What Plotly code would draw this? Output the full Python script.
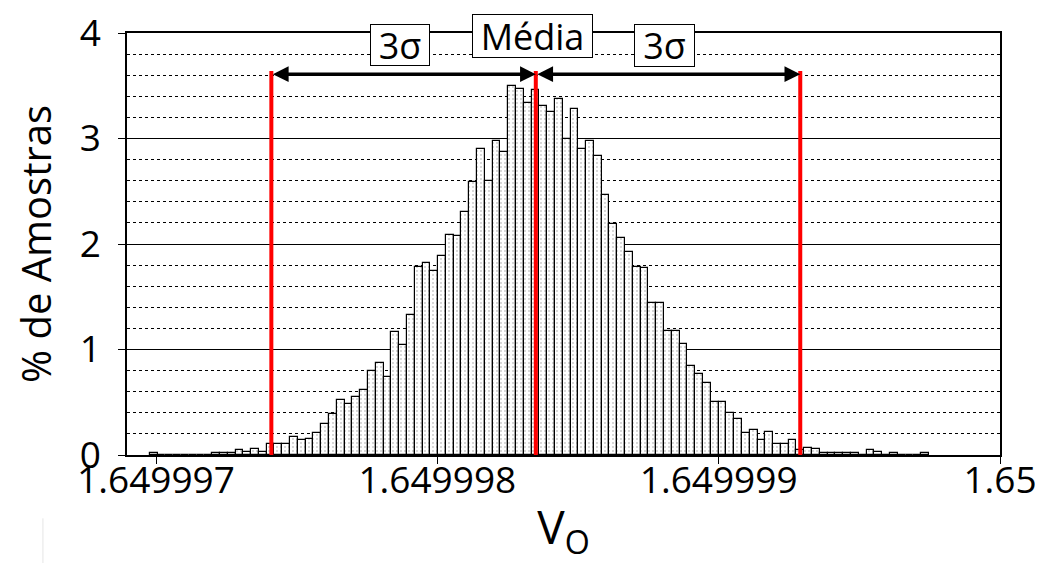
import numpy as np
import plotly.graph_objects as go

# ---------------- data ----------------
bin_start = 1.6499969780      # left edge of first histogram bin (V)
bin_width = 0.027693e-6       # histogram bin width (V)
pct_samples = [
    0.02, 0, 0, 0, 0, 0, 0, 0, 0.02, 0.02,
    0.02, 0.05, 0.03, 0.06, 0.03, 0.10, 0.10, 0.10, 0.17, 0.14,
    0.155, 0.21, 0.29, 0.39, 0.52, 0.48, 0.55, 0.62, 0.80, 0.875,
    0.74, 1.165, 1.04, 1.33, 1.78, 1.82, 1.74, 1.89, 2.09, 2.08,
    2.30, 2.585, 2.90, 2.60, 2.98, 2.87, 3.50, 3.47, 3.34, 3.46,
    3.31, 3.25, 3.37, 3.00, 3.28, 2.90, 2.98, 2.83, 2.46, 2.19,
    2.06, 1.92, 1.78, 1.77, 1.44, 1.44, 1.18, 1.175, 1.05, 0.84,
    0.77, 0.685, 0.50, 0.505, 0.40, 0.345, 0.21, 0.235, 0.14, 0.22,
    0.10, 0.10, 0.14, 0.05, 0.07, 0.057, 0.02, 0.02, 0.02, 0.02,
    0.02, 0, 0.047, 0.028, 0, 0.02, 0, 0, 0, 0.02,
]
sigma_lines = [1.64999741, 1.64999835, 1.64999929]   # -3σ, média, +3σ
sigma_line_top = 3.64
arrow_level = 3.61
box_labels = ["3σ", "Média", "3σ"]
box_x = [1.649997867, 1.649998337, 1.649998809]
box_y = [3.886, 3.97, 3.877]
box_w = [60, 121, 61]
box_h = [42, 44, 43]
x_tickvals = [1.649997, 1.649998, 1.649999, 1.65]
x_ticktext = ["1.649997", "1.649998", "1.649999", "1.65"]
y_tickvals = [0, 1, 2, 3, 4]

FONT = "Open Sans"

x_centers = bin_start + bin_width * (np.arange(len(pct_samples)) + 0.5)

fig = go.Figure()
fig.add_trace(go.Bar(
    x=x_centers, y=pct_samples, width=bin_width,
    marker=dict(color="white", line=dict(color="black", width=1.2),
                pattern=dict(shape=".", fgcolor="#333", bgcolor="white",
                             size=4, solidity=0.1)),
    showlegend=False, hoverinfo="x+y",
))

shapes = []
for xv in sigma_lines:
    shapes.append(dict(type="line", xref="x", yref="y", x0=xv, x1=xv,
                       y0=0, y1=sigma_line_top,
                       line=dict(color="#FF0000", width=4)))
# faint artefact line at bottom-left
shapes.append(dict(type="line", xref="paper", yref="paper",
                   x0=-0.0963, x1=-0.0963, y0=-0.15, y1=-0.256,
                   line=dict(color="#e6e6e6", width=1)))

annotations = []
for a, b in [(sigma_lines[0], sigma_lines[1]), (sigma_lines[1], sigma_lines[2])]:
    annotations.append(dict(x=b, y=arrow_level, ax=a, ay=arrow_level,
                            xref="x", yref="y", axref="x", ayref="y",
                            text="", showarrow=True, arrowside="end+start",
                            arrowhead=2, startarrowhead=2, arrowsize=0.9,
                            startarrowsize=0.9, arrowwidth=3.5,
                            arrowcolor="black", standoff=0, startstandoff=0))
for t, xv, yv, w, h in zip(box_labels, box_x, box_y, box_w, box_h):
    annotations.append(dict(x=xv, y=yv, xref="x", yref="y", text=t,
                            showarrow=False, bgcolor="white",
                            bordercolor="black", borderwidth=1, borderpad=0,
                            width=w - 2, height=h - 2,
                            font=dict(family=FONT, size=36, color="black"),
                            xanchor="center", yanchor="middle"))

fig.update_layout(
    width=1035, height=555,
    margin=dict(l=119, r=43, t=25, b=108, autoexpand=False),
    paper_bgcolor="white", plot_bgcolor="white",
    bargap=0,
    shapes=shapes, annotations=annotations,
    font=dict(family=FONT, color="black"),
    xaxis=dict(range=[1.6499968969, 1.65], tickvals=x_tickvals,
               ticktext=x_ticktext, ticks="outside", ticklen=7,
               tickcolor="black", tickwidth=1.2, automargin=True,
               ticklabelstandoff=-15, ticklabeloverflow="allow",
               showline=True, linecolor="black", linewidth=1.5, mirror=True,
               showgrid=False, zeroline=False,
               tickfont=dict(family=FONT, size=37, color="black"),
               title=dict(text="V<sub>O</sub>",
                          font=dict(family=FONT, size=46, color="black"),
                          standoff=20)),
    yaxis=dict(range=[0, 4], tickvals=y_tickvals, ticks="outside", ticklen=7,
               tickcolor="black", tickwidth=1.2, automargin=False,
               ticklabelstandoff=10, ticklabeloverflow="allow",
               showline=True, linecolor="black", linewidth=1.5, mirror=True,
               showgrid=True, gridcolor="black", gridwidth=1.2,
               zeroline=False,
               minor=dict(dtick=0.2, showgrid=True, gridcolor="black",
                          griddash="dot", gridwidth=1, ticks=""),
               tickfont=dict(family=FONT, size=37, color="black"),
               title=dict(text="% de Amostras",
                          font=dict(family=FONT, size=40, color="black"),
                          standoff=18)),
)

fig.write_html("out.html")
